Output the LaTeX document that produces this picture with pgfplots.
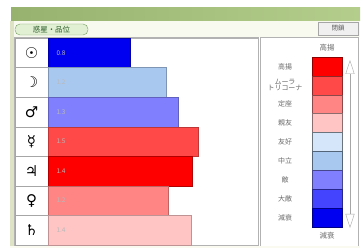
\documentclass[border=0pt]{standalone}
\usepackage{pgfplots}
\pgfplotsset{compat=1.18}
\usepackage{fontspec}
\setmainfont{Noto Sans CJK JP}
\newfontfamily\sym{DejaVu Sans}
\usetikzlibrary{arrows.meta}
\definecolor{cA}{HTML}{FF0000}
\definecolor{cB}{HTML}{FF4848}
\definecolor{cC}{HTML}{FF8484}
\definecolor{cD}{HTML}{FFC4C4}
\definecolor{cE}{HTML}{D6E6FA}
\definecolor{cF}{HTML}{A8C8F0}
\definecolor{cG}{HTML}{8080FF}
\definecolor{cH}{HTML}{4444FF}
\definecolor{cI}{HTML}{0000F0}
\definecolor{frame}{HTML}{DDE3C4}
\definecolor{tbL}{HTML}{96B26E}
\definecolor{tbR}{HTML}{B4CD8C}
\definecolor{tool}{HTML}{F8FAF0}
\definecolor{pill}{HTML}{E1F0D2}
\definecolor{pillD}{HTML}{78A064}
\definecolor{pillT}{HTML}{285A28}
\definecolor{bot}{HTML}{FAFAF0}
\begin{document}
\begin{tikzpicture}[x=1bp,y=1bp]
\fill[white] (0,0) rectangle (363,248);
% window chrome
\shade[left color=tbL, right color=tbR] (11,227) rectangle (360,240);
\fill[tool] (11,211) rectangle (360,227);
\fill[frame] (10,2) rectangle (14,227);
\draw[rounded corners=5bp, fill=pill, draw=pillD] (15,213) rectangle (88,224);
\node[font=\fontsize{7.5}{8}\selectfont, text=pillT] at (51.5,218.5) {惑星・品位};
\draw[fill=gray!12, draw=gray!70] (318,213) rectangle (358,226);
\node[font=\fontsize{6.5}{7}\selectfont, text=gray!70!black] at (338,219.5) {閉鎖};
\draw[gray!60] (14,2) rectangle (258,211);
\draw[gray!60] (260,2) rectangle (358,211);
\fill[bot] (10,0) rectangle (360,2);
\draw[gray!70, {Triangle[open,width=9bp,length=14bp]}-{Triangle[open,width=9bp,length=14bp]}] (350,188) -- (350,20);
% legend scale
\begin{axis}[at={(312bp,21bp)}, anchor=south west, width=30bp, height=170bp, scale only axis,
  xmin=0, xmax=1, ymin=-0.5, ymax=8.5, y dir=reverse,
  bar width=1, bar shift=0pt,
  ytick={0,...,8}, yticklabels={高揚,{ムーラ\\トリコーナ},定座,親友,友好,中立,敵,大敵,減衰},
  yticklabel style={font=\fontsize{7}{6}\selectfont, text=gray!85!black, align=center, anchor=center, xshift=-27bp},
  xtick=\empty, major tick length=0pt, axis line style={draw=none},
  title={高揚}, title style={font=\fontsize{7.5}{8}\selectfont, text=gray!85!black, yshift=-4bp},
  xlabel={減衰}, xlabel style={font=\fontsize{7.5}{8}\selectfont, text=gray!85!black, yshift=-2bp},
  clip=false]
\addplot[xbar, fill=cA, draw=cA!55!black] coordinates {(1,0)};
\addplot[xbar, fill=cB, draw=cB!55!black] coordinates {(1,1)};
\addplot[xbar, fill=cC, draw=cC!55!black] coordinates {(1,2)};
\addplot[xbar, fill=cD, draw=cD!55!black] coordinates {(1,3)};
\addplot[xbar, fill=cE, draw=cE!50!black] coordinates {(1,4)};
\addplot[xbar, fill=cF, draw=cF!50!black] coordinates {(1,5)};
\addplot[xbar, fill=cG, draw=cG!55!black] coordinates {(1,6)};
\addplot[xbar, fill=cH, draw=cH!55!black] coordinates {(1,7)};
\addplot[xbar, fill=cI, draw=cI!55!black] coordinates {(1,8)};
\end{axis}
% main chart
\begin{axis}[at={(48bp,3bp)}, anchor=south west, width=210bp, height=207bp, scale only axis,
  xmin=0, xmax=2.05, ymin=-0.5, ymax=6.5, y dir=reverse,
  bar width=1, bar shift=0pt,
  ytick={0,...,6}, yticklabels={☉,☽,♂,☿,♃,♀,♄},
  yticklabel style={font=\sym\bfseries\fontsize{15}{15}\selectfont, anchor=east, draw=gray!70, fill=white,
    minimum width=33bp, minimum height=29.57bp, inner sep=0pt, outer sep=0pt, xshift=0bp},
  xtick=\empty, major tick length=0pt, axis line style={gray!60}, clip=false]
\addplot[xbar, fill=cI, draw=cI!70!black] coordinates {(0.80,0)};
\addplot[xbar, fill=cF, draw=cF!75!black] coordinates {(1.15,1)};
\addplot[xbar, fill=cG, draw=cG!75!black] coordinates {(1.27,2)};
\addplot[xbar, fill=cB, draw=cB!75!black] coordinates {(1.47,3)};
\addplot[xbar, fill=cA, draw=cA!70!black] coordinates {(1.41,4)};
\addplot[xbar, fill=cC, draw=cC!75!black] coordinates {(1.17,5)};
\addplot[xbar, fill=cD, draw=cD!75!black] coordinates {(1.40,6)};
\addplot[only marks, mark=none, nodes near coords, point meta=explicit symbolic,
  nodes near coords style={anchor=west, xshift=5bp, font=\fontsize{6.5}{7}\selectfont, text=gray!55}]
  coordinates {(0,0)[0.8] (0,1)[1.2] (0,2)[1.3] (0,3)[1.5] (0,4)[1.4] (0,5)[1.2] (0,6)[1.4]};
\end{axis}
\end{tikzpicture}
\end{document}
